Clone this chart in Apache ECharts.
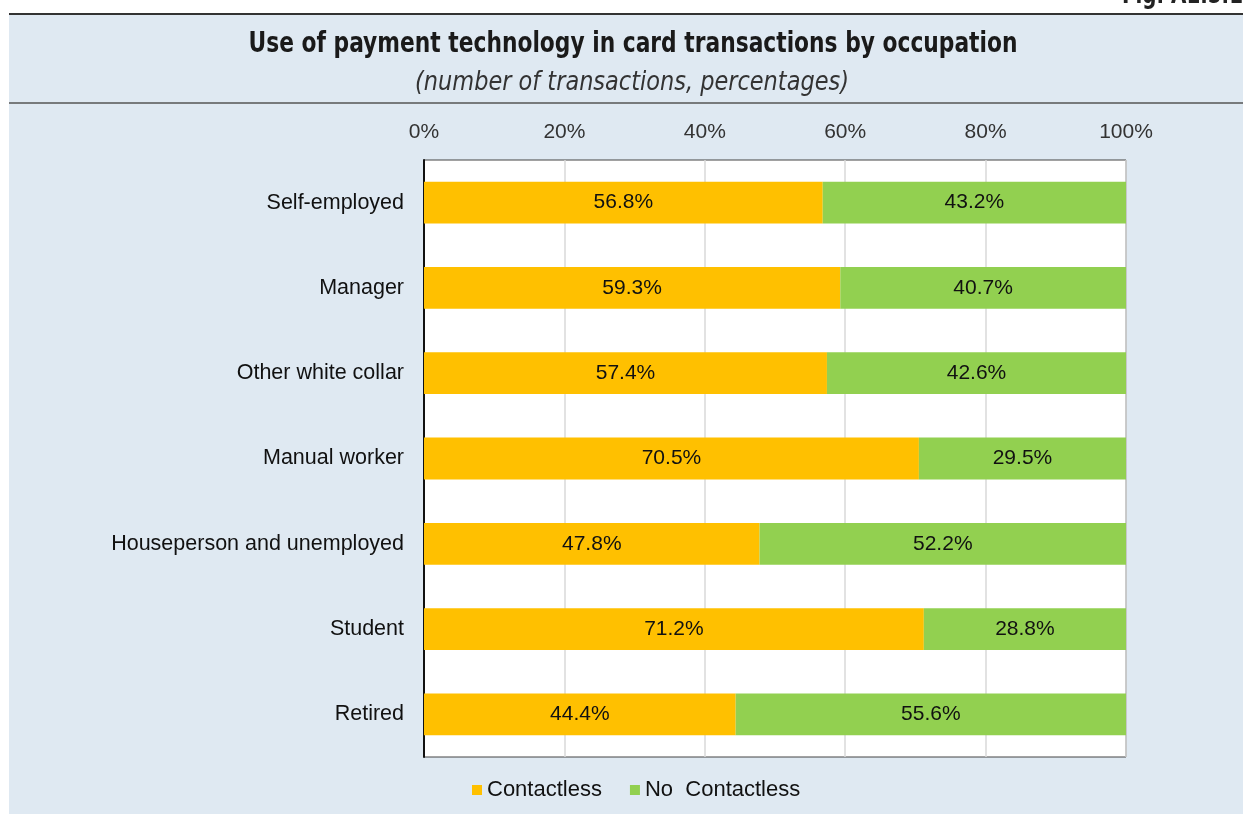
<!DOCTYPE html>
<html><head><meta charset="utf-8">
<script src="https://cdn.jsdelivr.net/npm/echarts@6/dist/echarts.min.js"></script>
<style>html,body{margin:0;padding:0;background:#fff}#c{width:1243px;height:814px}</style>
</head><body><div id="c"></div>
<script>
const categories = ["Self-employed","Manager","Other white collar","Manual worker","Houseperson and unemployed","Student","Retired"];
const contactless = [56.8,59.3,57.4,70.5,47.8,71.2,44.4];
const noContactless = [43.2,40.7,42.6,29.5,52.2,28.8,55.6];
const seriesNames = ["Contactless","No  Contactless"];

const chart = echarts.init(document.getElementById('c'));
const FF = 'Liberation Sans, Arial, sans-serif';
const lbl = {show:true,position:'inside',color:'#111',fontSize:21,fontFamily:FF,formatter:p=>p.value.toFixed(1)+'%'};
chart.setOption({
  animation:false,
  backgroundColor:'#fff',
  graphic:[
    {type:'rect',shape:{x:9,y:14,width:1234,height:800},style:{fill:'#dfe9f2'},z:-10},
    {type:'line',shape:{x1:9,y1:14,x2:1243,y2:14},style:{stroke:'#333',lineWidth:2}},
    {type:'line',shape:{x1:9,y1:103,x2:1243,y2:103},style:{stroke:'#555',lineWidth:1.5}},
    {type:'text',x:1243,y:-17,style:{text:'Fig. A1.5.1',textAlign:'right',textVerticalAlign:'top',font:'bold 26px "DejaVu Sans Condensed","DejaVu Sans",sans-serif',fill:'#222'},scaleX:0.85},
    {type:'text',x:633,y:44,scaleX:0.835,style:{text:'Use of payment technology in card transactions by occupation',textAlign:'center',textVerticalAlign:'middle',font:'bold 29px "DejaVu Sans Condensed","DejaVu Sans",sans-serif',fill:'#1a1a1a'}},
    {type:'text',x:632,y:83,scaleX:0.96,style:{text:'(number of transactions, percentages)',textAlign:'center',textVerticalAlign:'middle',font:'italic 26px "DejaVu Sans Condensed","DejaVu Sans",sans-serif',fill:'#333'}}
  ],
  grid:{left:424,right:117,top:160,bottom:57,show:true,backgroundColor:'#fff',borderColor:'#444',borderWidth:1},
  legend:{bottom:8,left:467,itemWidth:10,itemHeight:10,itemGap:28,icon:'rect',
    textStyle:{fontSize:22,color:'#111',fontFamily:FF},data:seriesNames},
  xAxis:{type:'value',position:'top',min:0,max:100,interval:20,
    axisLine:{show:false},axisTick:{show:false},
    axisLabel:{formatter:'{value}%',fontSize:21,color:'#333',fontFamily:FF,margin:17},
    splitLine:{lineStyle:{color:'#d9d9d9',width:1.5}}},
  yAxis:{type:'category',data:categories,inverse:true,
    axisLine:{lineStyle:{color:'#111',width:2}},axisTick:{show:false},
    axisLabel:{fontSize:21.5,color:'#111',fontFamily:FF,margin:20}},
  series:[
    {name:seriesNames[0],type:'bar',stack:'a',data:contactless,barWidth:'49%',itemStyle:{color:'#ffc000'},label:lbl},
    {name:seriesNames[1],type:'bar',stack:'a',data:noContactless,barWidth:'49%',itemStyle:{color:'#92d050'},label:lbl}
  ]
});
</script></body></html>
